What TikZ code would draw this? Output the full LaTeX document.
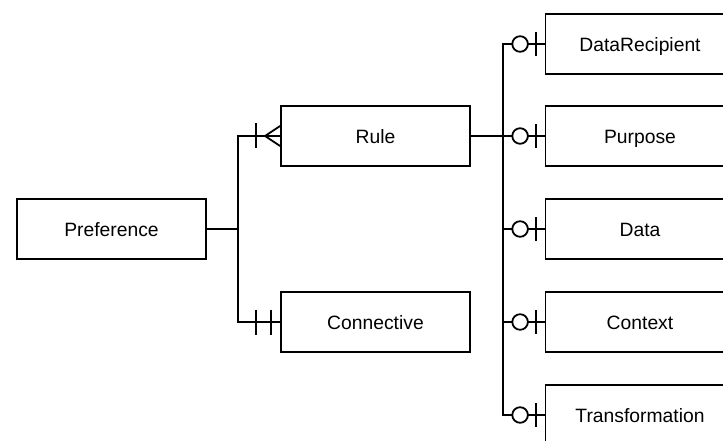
\documentclass[tikz,border=0pt]{standalone}
\usepackage{fontspec}
\setmainfont{Liberation Sans}
\usetikzlibrary{calc}
\begin{document}
\begin{tikzpicture}[x=1pt,y=-1pt,line width=1.8pt,
  entity/.style={draw,line width=1.8pt,minimum width=189pt,minimum height=60pt,inner sep=0pt,text height=14.6pt,text depth=0pt,font=\fontsize{19.3}{23}\selectfont},
  link/.style={draw,line width=1.8pt},
  circ/.style={draw,fill=white,line width=1.8pt}]
\useasboundingbox (0,0) rectangle (723,441);
\clip (0,0) rectangle (723,441);
\node[entity] (pref) at (111.5,229) {Preference};
\node[entity] (rule) at (375.5,136) {Rule};
\node[entity] (conn) at (375.5,322) {Connective};
\node[entity] (drec) at (640,44) {DataRecipient};
\node[entity] (purp) at (640,136) {Purpose};
\node[entity] (data) at (640,229) {Data};
\node[entity] (ctx) at (640,322) {Context};
\node[entity] (trans) at (640,415) {Transformation};
% left junction
\coordinate (lj) at (238,229);
\draw[link] (pref.east) -- (lj);
\draw[link] (rule.west) -| (lj) |- (conn.west);
% crow's foot (one or many) at Rule
\draw[link] ($(rule.west)+(-24,-12.5)$) -- ($(rule.west)+(-24,12.5)$);
\draw[link] ($(rule.west)+(0,-10)$) -- ($(rule.west)+(-15,0)$) -- ($(rule.west)+(0,10)$);
% one and only one at Connective
\draw[link] ($(conn.west)+(-24,-12.5)$) -- ($(conn.west)+(-24,12.5)$);
\draw[link] ($(conn.west)+(-9,-12.5)$) -- ($(conn.west)+(-9,12.5)$);
% right junction
\coordinate (rj) at (503,136);
\draw[link] (rule.east) -- (rj);
\foreach \b in {drec,purp,data,ctx,trans}{
  \draw[link] (\b.west) -| (rj);
  \draw[link] ($(\b.west)+(-9,-12)$) -- ($(\b.west)+(-9,12)$);
  \draw[circ] ($(\b.west)+(-24.5,0)$) circle (7.8);
}
\end{tikzpicture}
\end{document}
